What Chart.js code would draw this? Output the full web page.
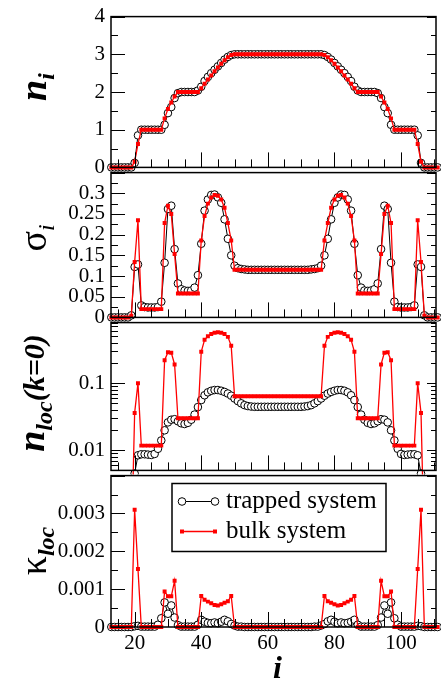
<!DOCTYPE html>
<html lang="en">
<head>
  <meta charset="UTF-8" />
  <title>Trapped vs bulk system</title>
  <script src="https://cdn.jsdelivr.net/npm/chart.js"></script>
  <style>
    body { margin: 0; background: #fff; }
    #wrap { position: relative; width: 441px; height: 682px; overflow: hidden; }
    #wrap canvas { position: absolute; left: 0; }
  </style>
</head>
<body>
<div id="wrap">
  <canvas id="p1"></canvas>
  <canvas id="p2"></canvas>
  <canvas id="p3"></canvas>
  <canvas id="p4"></canvas>
</div>
<script>
  // lattice sites
  const site = [
    13, 14, 15, 16, 17, 18, 19, 20, 21, 22,
    23, 24, 25, 26, 27, 28, 29, 30, 31, 32,
    33, 34, 35, 36, 37, 38, 39, 40, 41, 42,
    43, 44, 45, 46, 47, 48, 49, 50, 51, 52,
    53, 54, 55, 56, 57, 58, 59, 60, 61, 62,
    63, 64, 65, 66, 67, 68, 69, 70, 71, 72,
    73, 74, 75, 76, 77, 78, 79, 80, 81, 82,
    83, 84, 85, 86, 87, 88, 89, 90, 91, 92,
    93, 94, 95, 96, 97, 98, 99, 100, 101, 102,
    103, 104, 105, 106, 107, 108, 109, 110, 111, 112,
    113
  ];

  // density n_i
  const nTrap = [
    0, 0, 0, 0, 0, 0, 0, 0.12, 0.85, 1,
    1, 1, 1, 1, 1, 1, 1.13, 1.44, 1.6, 1.84,
    1.97, 2, 2, 2, 2, 2, 2.04, 2.14, 2.29, 2.4,
    2.5, 2.59, 2.68, 2.77, 2.86, 2.93, 2.98, 3, 3, 3,
    3, 3, 3, 3, 3, 3, 3, 3, 3, 3,
    3, 3, 3, 3, 3, 3, 3, 3, 3, 3,
    3, 3, 3, 3, 2.98, 2.93, 2.86, 2.77, 2.68, 2.59,
    2.5, 2.4, 2.29, 2.14, 2.04, 2, 2, 2, 2, 2,
    1.97, 1.84, 1.6, 1.44, 1.13, 1, 1, 1, 1, 1,
    1, 1, 0.85, 0.12, 0, 0, 0, 0, 0, 0,
    0
  ];
  const nBulk = [
    0, 0, 0, 0, 0, 0, 0, 0.15, 0.62, 1,
    1, 1, 1, 1, 1, 1, 1.3, 1.55, 1.72, 1.88,
    2, 2, 2, 2, 2, 2, 2, 2.1, 2.22, 2.33,
    2.44, 2.55, 2.65, 2.75, 2.84, 2.92, 2.98, 3, 3, 3,
    3, 3, 3, 3, 3, 3, 3, 3, 3, 3,
    3, 3, 3, 3, 3, 3, 3, 3, 3, 3,
    3, 3, 3, 3, 2.98, 2.92, 2.84, 2.75, 2.65, 2.55,
    2.44, 2.33, 2.22, 2.1, 2, 2, 2, 2, 2, 2,
    2, 1.88, 1.72, 1.55, 1.3, 1, 1, 1, 1, 1,
    1, 1, 0.62, 0.15, 0, 0, 0, 0, 0, 0,
    0
  ];

  // sigma_i
  const sigTrap = [
    0, 0, 0, 0, 0, 0, 0.005, 0.122, 0.128, 0.029,
    0.025, 0.024, 0.024, 0.024, 0.025, 0.038, 0.132, 0.262, 0.27, 0.165,
    0.082, 0.068, 0.065, 0.064, 0.065, 0.072, 0.102, 0.178, 0.258, 0.285,
    0.296, 0.297, 0.29, 0.277, 0.237, 0.19, 0.15, 0.125, 0.119, 0.117,
    0.116, 0.115, 0.115, 0.115, 0.115, 0.115, 0.115, 0.115, 0.115, 0.115,
    0.115, 0.115, 0.115, 0.115, 0.115, 0.115, 0.115, 0.115, 0.115, 0.115,
    0.116, 0.117, 0.119, 0.125, 0.15, 0.19, 0.237, 0.277, 0.29, 0.297,
    0.296, 0.285, 0.258, 0.178, 0.102, 0.072, 0.065, 0.064, 0.065, 0.068,
    0.082, 0.165, 0.27, 0.262, 0.132, 0.038, 0.025, 0.024, 0.024, 0.024,
    0.025, 0.029, 0.128, 0.122, 0.005, 0, 0, 0, 0, 0,
    0
  ];
  const sigBulk = [
    0, 0, 0, 0, 0, 0, 0.004, 0.134, 0.235, 0.02,
    0.02, 0.02, 0.02, 0.02, 0.02, 0.02, 0.228, 0.27, 0.25, 0.153,
    0.058, 0.058, 0.058, 0.058, 0.058, 0.058, 0.058, 0.186, 0.245, 0.275,
    0.29, 0.296, 0.294, 0.285, 0.265, 0.228, 0.186, 0.115, 0.115, 0.115,
    0.115, 0.115, 0.115, 0.115, 0.115, 0.115, 0.115, 0.115, 0.115, 0.115,
    0.115, 0.115, 0.115, 0.115, 0.115, 0.115, 0.115, 0.115, 0.115, 0.115,
    0.115, 0.115, 0.115, 0.115, 0.186, 0.228, 0.265, 0.285, 0.294, 0.296,
    0.29, 0.275, 0.245, 0.186, 0.058, 0.058, 0.058, 0.058, 0.058, 0.058,
    0.058, 0.153, 0.25, 0.27, 0.228, 0.02, 0.02, 0.02, 0.02, 0.02,
    0.02, 0.02, 0.235, 0.134, 0.004, 0, 0, 0, 0, 0,
    0
  ];

  // n_loc(k=0)
  const locTrap = [
    null, null, null, null, null, null, null, 0.0045, 0.0084, 0.0087,
    0.0087, 0.0086, 0.0085, 0.0088, 0.0105, 0.014, 0.0198, 0.026, 0.0285, 0.029,
    0.027, 0.0252, 0.0246, 0.0256, 0.0285, 0.034, 0.044, 0.056, 0.066, 0.073,
    0.077, 0.079, 0.079, 0.077, 0.074, 0.07, 0.065, 0.059, 0.054, 0.05,
    0.047, 0.0455, 0.0448, 0.0444, 0.0444, 0.0444, 0.0444, 0.0444, 0.0444, 0.0444,
    0.0444, 0.0444, 0.0444, 0.0444, 0.0444, 0.0444, 0.0444, 0.0444, 0.0448, 0.0455,
    0.047, 0.05, 0.054, 0.059, 0.065, 0.07, 0.074, 0.077, 0.079, 0.079,
    0.077, 0.073, 0.066, 0.056, 0.044, 0.034, 0.0285, 0.0256, 0.0246, 0.0252,
    0.027, 0.029, 0.0285, 0.026, 0.0198, 0.014, 0.0105, 0.0088, 0.0085, 0.0086,
    0.0087, 0.0087, 0.0084, 0.0045, null, null, null, null, null, null,
    null
  ];
  const locBulk = [
    null, null, null, null, null, null, 0.0003, 0.036, 0.1, 0.0117,
    0.0117, 0.0117, 0.0117, 0.0117, 0.0117, 0.0117, 0.22, 0.29, 0.285, 0.19,
    0.03, 0.03, 0.03, 0.03, 0.03, 0.03, 0.03, 0.294, 0.444, 0.5,
    0.54, 0.565, 0.575, 0.565, 0.54, 0.49, 0.36, 0.064, 0.064, 0.064,
    0.064, 0.064, 0.064, 0.064, 0.064, 0.064, 0.064, 0.064, 0.064, 0.064,
    0.064, 0.064, 0.064, 0.064, 0.064, 0.064, 0.064, 0.064, 0.064, 0.064,
    0.064, 0.064, 0.064, 0.064, 0.36, 0.49, 0.54, 0.565, 0.575, 0.565,
    0.54, 0.5, 0.444, 0.294, 0.03, 0.03, 0.03, 0.03, 0.03, 0.03,
    0.03, 0.19, 0.285, 0.29, 0.22, 0.0117, 0.0117, 0.0117, 0.0117, 0.0117,
    0.0117, 0.0117, 0.1, 0.036, 0.0003, null, null, null, null, null,
    null
  ];

  // kappa_loc
  const kapTrap = [
    0, 0, 0, 0, 0, 0, 0, 0.00002, 0.00003, 0.00001,
    0.00001, 0.00001, 0.00001, 0.00001, 0.00006, 0.00023, 0.00065, 0.00035, 0.00057, 0.00025,
    0.00005, 0.00001, 0.00001, 0.00001, 0.00001, 0.00001, 0.00006, 0.00019, 0.00014, 0.00011,
    0.0001, 0.00012, 0.0001, 0.00014, 0.00019, 0.00015, 0.00008, 0.00004, 0.00001, 0.00001,
    0, 0, 0, 0, 0, 0, 0, 0, 0, 0,
    0, 0, 0, 0, 0, 0, 0, 0, 0, 0,
    0, 0.00001, 0.00001, 0.00004, 0.00008, 0.00015, 0.00019, 0.00014, 0.0001, 0.00012,
    0.0001, 0.00011, 0.00014, 0.00019, 0.00006, 0.00001, 0.00001, 0.00001, 0.00001, 0.00001,
    0.00005, 0.00025, 0.00057, 0.00035, 0.00065, 0.00023, 0.00006, 0.00001, 0.00001, 0.00001,
    0.00001, 0.00001, 0.00003, 0.00002, 0, 0, 0, 0, 0, 0,
    0
  ];
  const kapBulk = [
    0, 0, 0, 0, 0, 0, 0, 0.0031, 0.00153, 0,
    0, 0, 0, 0, 0, 0, 0.00094, 0.00081, 0.00081, 0.00122,
    0, 0, 0, 0, 0, 0, 0, 0.00082, 0.00072, 0.00067,
    0.00063, 0.00058, 0.00057, 0.0006, 0.00064, 0.00068, 0.00082, 0, 0, 0,
    0, 0, 0, 0, 0, 0, 0, 0, 0, 0,
    0, 0, 0, 0, 0, 0, 0, 0, 0, 0,
    0, 0, 0, 0, 0.00082, 0.00068, 0.00064, 0.0006, 0.00057, 0.00058,
    0.00063, 0.00067, 0.00072, 0.00082, 0, 0, 0, 0, 0, 0,
    0, 0.00122, 0.00081, 0.00081, 0.00094, 0, 0, 0, 0, 0,
    0, 0, 0.00153, 0.0031, 0, 0, 0, 0, 0, 0,
    0
  ];

  const FONT = 'Liberation Serif';
  const xMajor = [20, 40, 60, 80, 100];
  const xMinor = [15, 25, 30, 35, 45, 50, 55, 65, 70, 75, 85, 90, 95, 105, 110];

  const pts = vals => vals.map((v, k) => ({ x: site[k], y: v }));

  // box, inward ticks and rotated y title
  const framePlugin = {
    id: 'frame',
    afterDraw(chart, args, o) {
      const { ctx, chartArea: a } = chart;
      const xs = chart.scales.x, ys = chart.scales.y;
      ctx.save();
      ctx.strokeStyle = '#000';
      ctx.lineWidth = 1;
      ctx.beginPath();
      const yTick = (v, len, rlen) => {
        const p = Math.round(ys.getPixelForValue(v)) + 0.5;
        ctx.moveTo(a.left, p); ctx.lineTo(a.left + len, p);
        ctx.moveTo(a.right, p); ctx.lineTo(a.right - rlen, p);
      };
      o.yMajor.forEach(v => yTick(v, 14, 9));
      o.yMinor.forEach(v => yTick(v, 7, 5));
      const xTick = (v, len) => {
        const p = Math.round(xs.getPixelForValue(v)) + 0.5;
        ctx.moveTo(p, a.bottom); ctx.lineTo(p, a.bottom - len);
      };
      xMajor.forEach(v => xTick(v, 15));
      xMinor.forEach(v => xTick(v, 8));
      ctx.stroke();
      ctx.lineWidth = 1.5;
      ctx.strokeRect(a.left, a.top, a.right - a.left, a.bottom - a.top);
      ctx.restore();

      // y title
      ctx.save();
      ctx.translate(o.tx, o.ty);
      ctx.rotate(-Math.PI / 2);
      ctx.fillStyle = '#000';
      ctx.textBaseline = 'alphabetic';
      let w = 0;
      o.title.forEach(p => { ctx.font = p.f; p.w = ctx.measureText(p.t).width; w += p.w; });
      let u = -w / 2;
      o.title.forEach(p => { ctx.font = p.f; ctx.fillText(p.t, u, p.d); u += p.w; });
      ctx.restore();
    }
  };

  // legend box and x title, bottom panel only
  const legendBox = {
    id: 'legendBox',
    afterDraw(chart) {
      const ctx = chart.ctx;
      ctx.save();
      ctx.fillStyle = '#fff';
      ctx.fillRect(172, 26.5, 214, 68);
      ctx.strokeStyle = '#000';
      ctx.lineWidth = 1.5;
      ctx.strokeRect(172, 26.5, 214, 68);

      // trapped
      ctx.lineWidth = 1;
      ctx.beginPath(); ctx.moveTo(182, 44.5); ctx.lineTo(215, 44.5); ctx.stroke();
      [182, 215].forEach(x => {
        ctx.beginPath(); ctx.arc(x, 44.5, 3.8, 0, Math.PI * 2);
        ctx.fillStyle = '#fff'; ctx.fill(); ctx.stroke();
      });
      // bulk
      ctx.strokeStyle = '#ff0000';
      ctx.lineWidth = 1.3;
      ctx.beginPath(); ctx.moveTo(182, 74.5); ctx.lineTo(215, 74.5); ctx.stroke();
      ctx.fillStyle = '#ff0000';
      [182, 215].forEach(x => ctx.fillRect(x - 2, 74.5 - 2, 4, 4));

      ctx.fillStyle = '#000';
      ctx.font = '25px ' + FONT;
      ctx.textBaseline = 'middle';
      ctx.fillText('trapped system', 226, 44);
      ctx.fillText('bulk system', 226, 74);

      ctx.font = 'bold italic 32px ' + FONT;
      ctx.textAlign = 'center';
      ctx.textBaseline = 'alphabetic';
      const a = chart.chartArea;
      ctx.fillText('i', (a.left + a.right) / 2 + 4, 221);
      ctx.restore();
    }
  };

  function yAxis(extra, tickVals) {
    return Object.assign({
      grid: { display: false, drawTicks: false },
      border: { display: false },
      ticks: {
        color: '#000', font: { family: FONT, size: 21 }, padding: 6,
        autoSkip: false, callback: v => String(v)
      },
      afterBuildTicks: s => { s.ticks = tickVals.map(v => ({ value: v })); },
      afterFit: s => { s.width = 111; }
    }, extra);
  }

  function xAxis(show) {
    return {
      type: 'linear', min: 12.9, max: 110.5, display: show,
      grid: { display: false, drawTicks: false },
      border: { display: false },
      ticks: { color: '#000', font: { family: FONT, size: 21 }, padding: 4, autoSkip: false, maxRotation: 0 },
      afterBuildTicks: s => { s.ticks = xMajor.map(v => ({ value: v })); },
      afterFit: s => { if (show) s.height = 55; }
    };
  }

  function panel(id, top, height, last, yOpts, trap, bulk, frame, clipBottom) {
    const cv = document.getElementById(id);
    cv.width = 441; cv.height = height; cv.style.top = top + 'px';
    const clip = { left: 8, right: 8, top: 8, bottom: clipBottom };
    return new Chart(cv, {
      type: 'line',
      data: {
        datasets: [
          {
            label: 'bulk system', data: pts(bulk), order: 0, clip,
            borderColor: '#ff0000', borderWidth: 1.3,
            pointStyle: 'rect', pointRadius: 2.8,
            pointBackgroundColor: '#ff0000', pointBorderWidth: 0
          },
          {
            label: 'trapped system', data: pts(trap), order: 1, clip,
            borderColor: '#000', borderWidth: 1,
            pointStyle: 'circle', pointRadius: 3.8,
            pointBackgroundColor: '#fff', pointBorderColor: '#000', pointBorderWidth: 1
          }
        ]
      },
      options: {
        responsive: false, animation: false, events: [],
        layout: { padding: { top: 16, bottom: last ? 0 : 16, left: 0, right: 5 } },
        plugins: { legend: { display: false }, tooltip: { enabled: false }, frame },
        scales: { x: xAxis(last), y: yOpts }
      },
      plugins: last ? [framePlugin, legendBox] : [framePlugin]
    });
  }

  const BI = 'bold italic ';

  panel('p1', -2, 188, false,
    yAxis({ min: 0, max: 4 }, [0, 1, 2, 3, 4]),
    nTrap, nBulk,
    { yMajor: [0, 1, 2, 3, 4], yMinor: [0.5, 1.5, 2.5, 3.5], tx: 46, ty: 89,
      title: [{ t: 'n', f: BI + '38px ' + FONT, d: 0 }, { t: 'i', f: BI + '24px ' + FONT, d: 8 }] }, 8);

  panel('p2', 154, 182, false,
    yAxis({ min: 0, max: 0.35 }, [0, 0.05, 0.1, 0.15, 0.2, 0.25, 0.3]),
    sigTrap, sigBulk,
    { yMajor: [0, 0.05, 0.1, 0.15, 0.2, 0.25, 0.3, 0.35],
      yMinor: [0.025, 0.075, 0.125, 0.175, 0.225, 0.275, 0.325], tx: 46, ty: 84,
      title: [{ t: 'σ', f: '38px ' + FONT, d: 0 }, { t: 'i', f: 'italic 24px ' + FONT, d: 8 }] }, 8);

  panel('p3', 304, 185, false,
    yAxis({ type: 'logarithmic', min: 0.005, max: 0.8 }, [0.01, 0.1]),
    locTrap, locBulk,
    { yMajor: [0.01, 0.1],
      yMinor: [0.005, 0.006, 0.007, 0.008, 0.009, 0.02, 0.03, 0.04, 0.05, 0.06, 0.07, 0.08, 0.09,
               0.2, 0.3, 0.4, 0.5, 0.6, 0.7, 0.8], tx: 44, ty: 89,
      title: [{ t: 'n', f: BI + '38px ' + FONT, d: 0 }, { t: 'loc', f: BI + '24px ' + FONT, d: 8 },
              { t: '(k=0)', f: BI + '30px ' + FONT, d: 0 }] }, 4);

  panel('p4', 457, 225, true,
    yAxis({ min: 0, max: 0.004 }, [0, 0.001, 0.002, 0.003]),
    kapTrap, kapBulk,
    { yMajor: [0, 0.001, 0.002, 0.003, 0.004], yMinor: [0.0005, 0.0015, 0.0025, 0.0035], tx: 46, ty: 94,
      title: [{ t: 'κ', f: '38px ' + FONT, d: 0 }, { t: 'loc', f: BI + '24px ' + FONT, d: 8 }] }, 8);
</script>
</body>
</html>
